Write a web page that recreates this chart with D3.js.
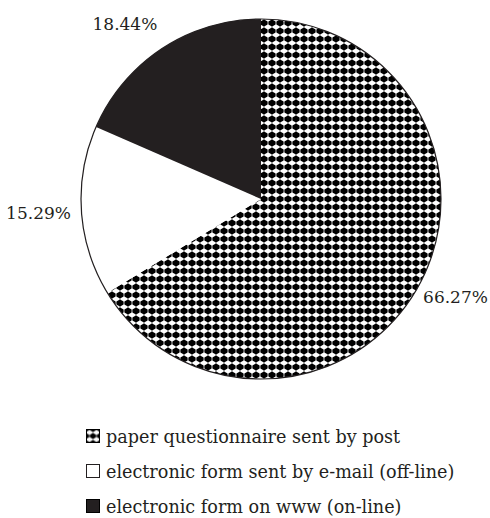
<!DOCTYPE html>
<html>
<head>
<meta charset="utf-8">
<script src="https://cdn.jsdelivr.net/npm/d3@7/dist/d3.min.js"></script>
<style>
  html, body { margin: 0; padding: 0; background: #fff; }
  svg { display: block; }
  text { font-family: "DejaVu Serif", "Liberation Serif", serif; fill: #231f20; }
</style>
</head>
<body>
<svg id="chart" width="490" height="518"></svg>
<script>
// Survey responses by collection method (share of all returned forms, %)
const categories = [
  "paper questionnaire sent by post",
  "electronic form sent by e-mail (off-line)",
  "electronic form on www (on-line)"
];
const shares = [66.27, 15.29, 18.44];
const shareLabels = ["66.27%", "15.29%", "18.44%"];

const ink = "#231f20";
const cx = 261, cy = 199, radius = 180;
const labelSize = 17, legendSize = 17.6;

const svg = d3.select("#chart");
const defs = svg.append("defs");

// diamond-dot checker used for the postal questionnaire slice
function dotPattern(id, size, ox, oy) {
  const k = size / 8;
  const p = defs.append("pattern")
    .attr("id", id)
    .attr("patternUnits", "userSpaceOnUse")
    .attr("width", size).attr("height", size)
    .attr("patternTransform", `translate(${ox},${oy})`);
  p.append("rect").attr("width", size).attr("height", size).attr("fill", "#fff");
  p.append("path")
    .attr("d", "M4,0.3 L5.8,1.6 L7.4,2.2 L7.7,4 L7.4,5.8 L5.8,6.4 L4,7.7 L2.2,6.4 L0.6,5.8 L0.3,4 L0.6,2.2 L2.2,1.6 Z")
    .attr("transform", `scale(${k})`)
    .attr("fill", "#000");
  return `url(#${id})`;
}
const dotsFill = dotPattern("dots", 8, -1, -4);
const dotsIcon = dotPattern("dotsIcon", 7, 82.5, 425.5);

const fills = [dotsFill, "#fff", ink];
const iconFills = [dotsIcon, "#fff", ink];

const pie = d3.pie().sort(null).value(d => d)
  .startAngle(0).endAngle(2 * Math.PI);
const arcs = pie(shares);
const arc = d3.arc().innerRadius(0).outerRadius(radius);

const g = svg.append("g").attr("transform", `translate(${cx},${cy})`);

g.selectAll("path.slice")
  .data(arcs)
  .join("path")
  .attr("class", "slice")
  .attr("d", arc)
  .attr("fill", (d, i) => fills[i]);

g.append("circle")
  .attr("r", radius)
  .attr("fill", "none")
  .attr("stroke", ink)
  .attr("stroke-width", 1.2);

// value labels outside each slice, pushed out along the slice's middle angle
const nudge = { 2: [-14, -9] };
g.selectAll("text.value")
  .data(arcs)
  .join("text")
  .attr("class", "value")
  .attr("font-size", labelSize)
  .attr("text-anchor", "middle")
  .each(function (d, i) {
    const a = (d.startAngle + d.endAngle) / 2;
    const s = Math.sin(a), c = -Math.cos(a);
    const w = 62, h = 13;
    const px = s * (radius + 12), py = c * (radius + 12);
    let x = px + s * w / 2;
    let y = py + c * h / 2;
    if (nudge[i]) { x += nudge[i][0]; y += nudge[i][1]; }
    d3.select(this)
      .attr("x", x)
      .attr("y", y + h / 2)
      .text(shareLabels[i]);
  });

// legend
const legendX = 86, legendTop = 429, rowGap = 35, box = 14;
const legend = svg.append("g");
const rows = legend.selectAll("g.row")
  .data(categories)
  .join("g")
  .attr("class", "row")
  .attr("transform", (d, i) => `translate(0,${i * rowGap})`);

rows.append("rect")
  .attr("x", legendX + 0.5)
  .attr("y", legendTop + 0.5)
  .attr("width", box - 1)
  .attr("height", box - 1)
  .attr("fill", (d, i) => iconFills[i])
  .attr("stroke", (d, i) => i === 1 ? ink : "#000")
  .attr("stroke-width", 1);

rows.append("text")
  .attr("x", legendX + box + 6)
  .attr("y", legendTop + box)
  .attr("font-size", legendSize)
  .text(d => d);
</script>
</body>
</html>
